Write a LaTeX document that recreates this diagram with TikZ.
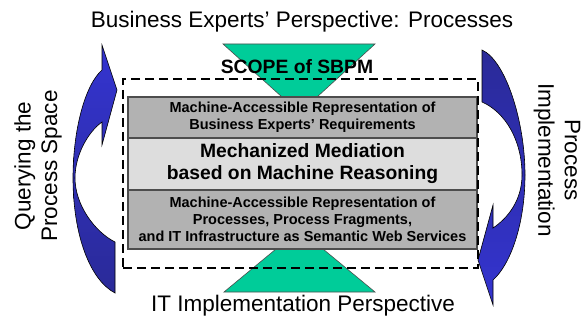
\documentclass[tikz,border=0pt]{standalone}
\usepackage{fontspec}
\setmainfont{Liberation Sans}
\definecolor{tealgreen}{HTML}{00CC99}
\definecolor{darkbox}{HTML}{B2B2B2}
\definecolor{lightbox}{HTML}{DDDDDD}
\definecolor{boxline}{HTML}{4D4D4D}
\definecolor{arrowhi}{HTML}{3434D0}
\definecolor{arrowlo}{HTML}{2A2A98}
\begin{document}
\begin{tikzpicture}[x=1pt,y=-1pt,
  trap/.style={fill=tealgreen, draw=boxline, line width=0.6pt},
  layerbox/.style={draw=boxline, line width=1.2pt, minimum width=349pt, inner sep=0pt, align=center},
  smalltext/.style={font=\bfseries\fontsize{14.5}{17}\selectfont},
  bigtext/.style={font=\bfseries\fontsize{19.3}{22}\selectfont},
  outertext/.style={font=\fontsize{22.5}{26.5}\selectfont, inner sep=0pt, align=center},
  scopebox/.style={draw=black, line width=1.8pt, dash pattern=on 9pt off 5pt, minimum width=355pt, minimum height=189pt, inner sep=0pt},
  cyclearrow/.style={draw=black, line width=0.6pt}
]
\useasboundingbox (0,0) rectangle (585,320);

% blue curved arrows
\path[cyclearrow, top color=arrowhi, bottom color=arrowlo]
  (102,45) -- (117,90) -- (102,145) -- (102,122)
  .. controls (88,132) and (75,155) .. (75,178)
  .. controls (75,205) and (95,232) .. (115,242)
  -- (115,293)
  .. controls (90,280) and (73,235) .. (73,178)
  .. controls (73,130) and (85,85) .. (102,70) -- cycle;
\path[cyclearrow, top color=arrowlo, bottom color=arrowhi]
  (493,305) -- (478,260) -- (493,205) -- (493,228)
  .. controls (508,218) and (522,200) .. (522,175)
  .. controls (522,140) and (505,112) .. (482,102)
  -- (482,50)
  .. controls (505,60) and (525,120) .. (525,175)
  .. controls (525,225) and (510,265) .. (493,280) -- cycle;

% green trapezoids
\draw[trap] (223,44) -- (375,44) -- (317,97) -- (282,97) -- cycle;
\draw[trap] (276,249) -- (323,249) -- (375,292) -- (224,292) -- cycle;

% layers
\node[layerbox, fill=darkbox, minimum height=41pt, smalltext] (req) at (302.5,117.5)
  {Machine-Accessible Representation of\\Business Experts’ Requirements};
\node[layerbox, fill=lightbox, minimum height=52pt, bigtext] (med) at (302.5,164)
  {Mechanized Mediation\\based on Machine Reasoning};
\node[layerbox, fill=darkbox, minimum height=59pt, smalltext] (sws) at (302.5,219.5)
  {Machine-Accessible Representation of\\Processes, Process Fragments,\\and IT Infrastructure as Semantic Web Services};

% scope
\node[scopebox] (scope) at (300.5,173.5) {};
\node[bigtext, inner sep=0pt] (scopelabel) at (297,67) {SCOPE of SBPM};

% outer labels
\node[outertext] (title) at (302,22) {Business Experts’ Perspective: Processes};
\node[outertext] (itimpl) at (303,306) {IT Implementation Perspective};
\node[outertext, rotate=90] (query) at (38,166) {Querying the\\Process Space};
\node[outertext, rotate=-90] (procimpl) at (557,160) {Process\\Implementation};
\end{tikzpicture}
\end{document}
